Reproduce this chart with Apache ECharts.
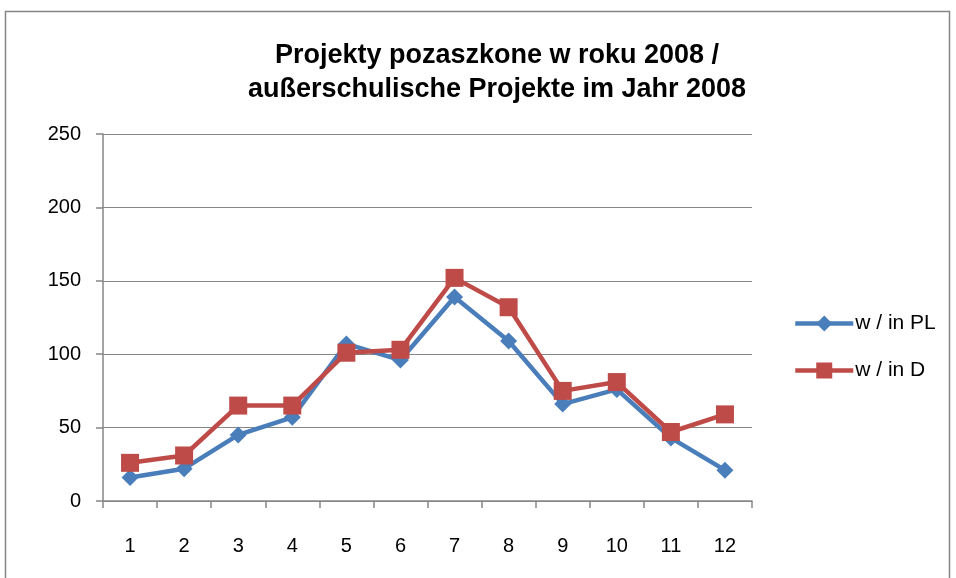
<!DOCTYPE html>
<html>
<head>
<meta charset="utf-8">
<script src="https://cdn.jsdelivr.net/npm/echarts@6/dist/echarts.min.js"></script>
<style>
  html, body { margin: 0; padding: 0; background: #fff; }
  #chart { width: 956px; height: 578px; }
</style>
</head>
<body>
<div id="chart"></div>
<script>
const months = ['1', '2', '3', '4', '5', '6', '7', '8', '9', '10', '11', '12']
const seriesNames = ['w / in PL', 'w / in D']
const valuesPL = [16, 22, 45, 57, 107, 96, 139, 109, 66, 76, 43, 21]
const valuesD = [26, 31, 65, 65, 101, 103, 152, 132, 75, 81, 47, 59]
const yTicks = { min: 0, max: 250, interval: 50 }

const chart = echarts.init(document.getElementById('chart'))
chart.setOption({
  animation: false,
  color: ['#4a7ebb', '#be4b48'],
  title: {
    text: 'Projekty pozaszkone w roku 2008 /\naußerschulische Projekte im Jahr 2008',
    left: 492,
    top: 34,
    textAlign: 'center',
    textStyle: {
      fontFamily: 'Liberation Sans',
      fontSize: 27,
      fontWeight: 'bold',
      color: '#000',
      lineHeight: 34
    }
  },
  graphic: [{
    type: 'rect',
    shape: { x: 5.5, y: 11.5, width: 944, height: 580 },
    style: { fill: 'none', stroke: '#868686', lineWidth: 1.5 },
    silent: true
  }],
  legend: {
    data: seriesNames,
    orient: 'vertical',
    left: 788,
    top: 308,
    itemWidth: 58,
    itemHeight: 20,
    itemGap: 26,
    lineStyle: { width: 4.5 },
    textStyle: {
      fontFamily: 'Liberation Sans',
      fontSize: 21,
      color: '#000',
      padding: [0, 0, 0, -3]
    }
  },
  grid: {
    left: 103,
    right: 204,
    top: 134,
    bottom: 77
  },
  xAxis: {
    type: 'category',
    data: months,
    boundaryGap: true,
    axisLine: { lineStyle: { color: '#868686', width: 1.5 } },
    axisTick: { show: true, length: 7, lineStyle: { color: '#868686', width: 1.5 } },
    axisLabel: {
      fontFamily: 'Liberation Sans',
      fontSize: 20,
      color: '#000',
      margin: 35
    },
    splitLine: { show: false }
  },
  yAxis: {
    type: 'value',
    min: yTicks.min,
    max: yTicks.max,
    interval: yTicks.interval,
    axisLine: { show: true, lineStyle: { color: '#868686', width: 1.5 } },
    axisTick: { show: true, length: 7, lineStyle: { color: '#868686', width: 1.5 } },
    axisLabel: {
      fontFamily: 'Liberation Sans',
      fontSize: 20,
      color: '#000',
      margin: 22
    },
    splitLine: { lineStyle: { color: '#868686', width: 1.2 } }
  },
  series: [
    {
      name: seriesNames[0],
      type: 'line',
      data: valuesPL,
      symbol: 'diamond',
      symbolSize: 17,
      lineStyle: { width: 4.5 }
    },
    {
      name: seriesNames[1],
      type: 'line',
      data: valuesD,
      symbol: 'rect',
      symbolSize: 18,
      lineStyle: { width: 4.5 }
    }
  ]
})
</script>
</body>
</html>
